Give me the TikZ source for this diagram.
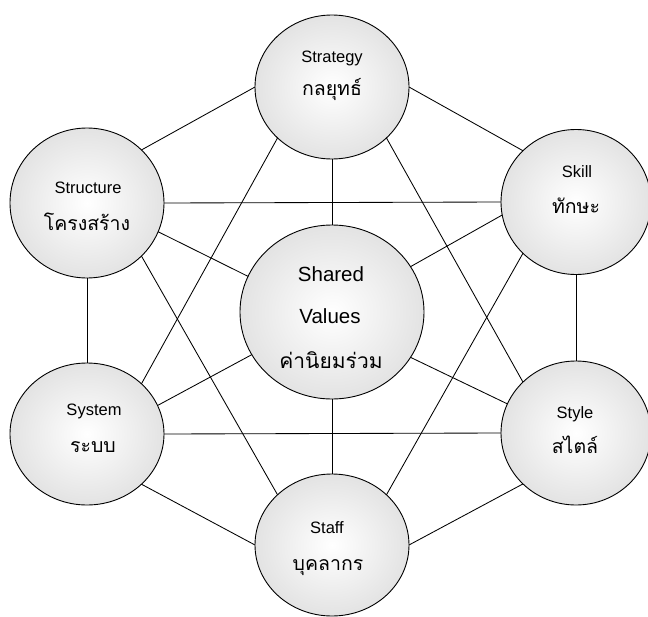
\documentclass[tikz,border=0pt]{standalone}
\usepackage{fontspec}
\setmainfont{Liberation Sans}
\newfontfamily\thaifont[Script=Thai]{Loma}
\usetikzlibrary{shapes.geometric}
\begin{document}
\begin{tikzpicture}[x=1pt,y=-1pt,
  bubble/.style={ellipse, draw=black, line width=0.9pt, shade, inner color=white, outer color=black!11, inner sep=0pt, outer sep=0pt},
  link/.style={draw=black, line width=0.85pt},
  en/.style={font=\fontsize{16.5}{16.5}\selectfont, inner sep=0pt, anchor=base},
  enbig/.style={font=\fontsize{20.5}{20.5}\selectfont, inner sep=0pt, anchor=base},
  th/.style={font=\thaifont\fontsize{19.5}{19.5}\selectfont, inner sep=0pt, anchor=base},
  thbig/.style={font=\thaifont\fontsize{21}{21}\selectfont, inner sep=0pt, anchor=base}]
\useasboundingbox (0,0) rectangle (648,616);
% circles
\node[bubble, minimum width=154pt, minimum height=144pt] (strat) at (332,87) {};
\node[bubble, minimum width=154pt, minimum height=150pt] (struc) at (87,203) {};
\node[bubble, minimum width=150pt, minimum height=145pt] (skill) at (576,202) {};
\node[bubble, minimum width=154pt, minimum height=142pt] (syst) at (87,434) {};
\node[bubble, minimum width=150pt, minimum height=144pt] (style) at (576,433) {};
\node[bubble, minimum width=154pt, minimum height=142pt] (staff) at (332,545) {};
\node[bubble, minimum width=184pt, minimum height=174pt] (shared) at (332,312) {};
% connectors: hexagon
\draw[link] (strat.west) -- (struc.north east);
\draw[link] (strat.east) -- (skill.north west);
\draw[link] (struc.south) -- (syst.north);
\draw[link] (skill.south) -- (style.north);
\draw[link] (syst.south east) -- (staff.west);
\draw[link] (style.south west) -- (staff.east);
% connectors: spokes
\draw[link] (strat.south) -- (shared.north);
\draw[link] (staff.north) -- (shared.south);
\draw[link] (struc.-22.5) -- (shared.157.4);
\draw[link] (skill.190) -- (shared.30);
\draw[link] (syst.22.5) -- (shared.208);
\draw[link] (style.157) -- (shared.-30.6);
% connectors: triangles
\draw[link] (struc.east) -- (skill.west);
\draw[link] (struc.south east) -- (staff.north west);
\draw[link] (skill.south west) -- (staff.north east);
\draw[link] (strat.south west) -- (syst.north east);
\draw[link] (strat.south east) -- (style.north west);
\draw[link] (syst.east) -- (style.west);
% labels
\node[en] (strat-en) at (332,62) {Strategy};
\node[th] (strat-th) at (332,95) {กลยุทธ์};
\node[en] (skill-en) at (577,177) {Skill};
\node[th] (skill-th) at (576,213) {ทักษะ};
\node[en] (struc-en) at (88,193) {Structure};
\node[th] (struc-th) at (87,230) {โครงสร้าง};
\node[en] (syst-en) at (94,415) {System};
\node[th] (syst-th) at (93,452) {ระบบ};
\node[en] (style-en) at (575,418) {Style};
\node[th] (style-th) at (575,453) {สไตล์};
\node[en] (staff-en) at (327,533) {Staff};
\node[th] (staff-th) at (328,570) {บุคลากร};
\node[enbig] (shared-en1) at (331,281) {Shared};
\node[enbig] (shared-en2) at (330,323) {Values};
\node[thbig] (shared-th) at (331,368) {ค่านิยมร่วม};
\end{tikzpicture}
\end{document}
